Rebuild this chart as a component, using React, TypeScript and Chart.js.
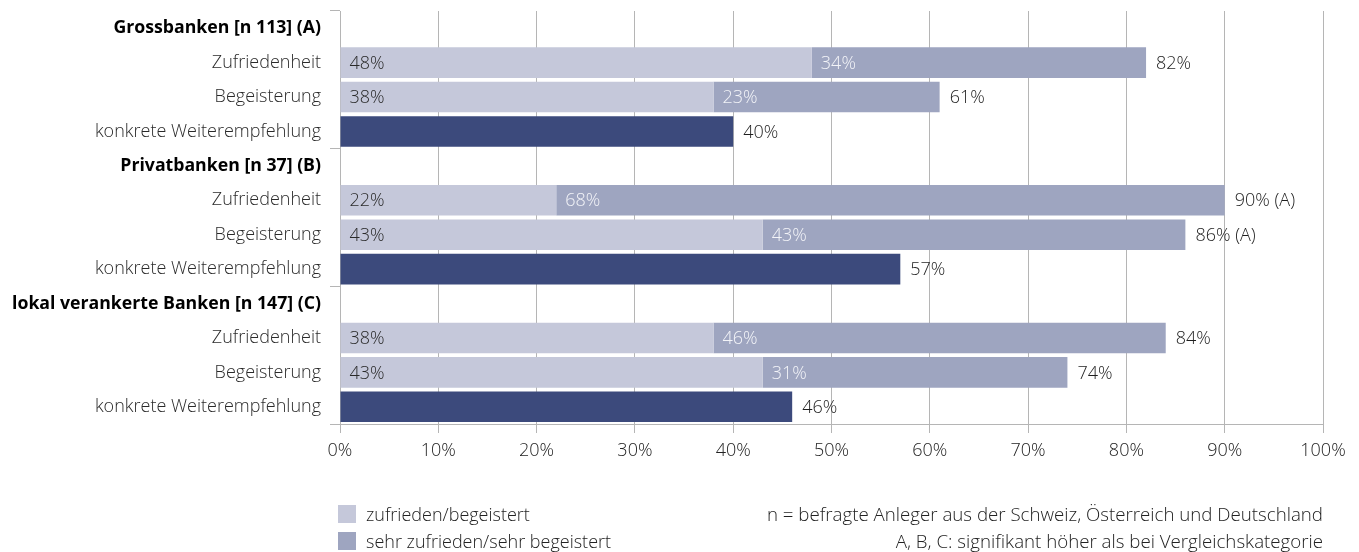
import React, { useEffect, useRef } from "react";
import { Chart, registerables } from "chart.js";

Chart.register(...registerables);

const categories = [
  "Grossbanken [n 113] (A)",
  "Zufriedenheit",
  "Begeisterung",
  "konkrete Weiterempfehlung",
  "Privatbanken [n 37] (B)",
  "Zufriedenheit",
  "Begeisterung",
  "konkrete Weiterempfehlung",
  "lokal verankerte Banken [n 147] (C)",
  "Zufriedenheit",
  "Begeisterung",
  "konkrete Weiterempfehlung",
];

const zufriedenValues = [null, 48, 38, null, null, 22, 43, null, null, 38, 43, null];
const sehrZufriedenValues = [null, 34, 23, null, null, 68, 43, null, null, 46, 31, null];
const weiterempfehlungValues = [null, null, null, 40, null, null, null, 57, null, null, null, 46];
const significanceMarks = ["", "", "", "", "", "(A)", "(A)", "", "", "", "", ""];

const seriesLabels = ["zufrieden/begeistert", "sehr zufrieden/sehr begeistert", "konkrete Weiterempfehlung"];
const notes = [
  "n = befragte Anleger aus der Schweiz, Österreich und Deutschland",
  "A, B, C: signifikant höher als bei Vergleichskategorie",
];

const LIGHT = "#c5c8da";
const MEDIUM = "#9ea5c0";
const DARK = "#3c4a7c";
const GRID = "#b5b5b5";
const FONT = "'Open Sans', Roboto, 'Liberation Sans', Arial, sans-serif";
const FONT_SIZE = 18;

const valueLabels = {
  id: "valueLabels",
  afterDatasetsDraw(chart: any) {
    const ctx = chart.ctx;
    ctx.save();
    ctx.font = `300 ${FONT_SIZE}px ${FONT}`;
    ctx.textBaseline = "middle";
    ctx.textAlign = "left";
    const m0 = chart.getDatasetMeta(0);
    const m1 = chart.getDatasetMeta(1);
    const m2 = chart.getDatasetMeta(2);
    categories.forEach((_, i) => {
      const a = zufriedenValues[i];
      const b = sehrZufriedenValues[i];
      const c = weiterempfehlungValues[i];
      const sig = significanceMarks[i];
      if (a != null) {
        const el = m0.data[i];
        ctx.fillStyle = "#2a2a2a";
        ctx.fillText(`${a}%`, el.base + 9, el.y + 1);
      }
      if (b != null) {
        const el = m1.data[i];
        ctx.fillStyle = "#f3f4f8";
        ctx.fillText(`${b}%`, el.base + 9, el.y + 1);
        const total = (a ?? 0) + b;
        ctx.fillStyle = "#1e1e1e";
        ctx.fillText(`${total}%${sig ? " " + sig : ""}`, el.x + 10, el.y + 1);
      }
      if (c != null) {
        const el = m2.data[i];
        ctx.fillStyle = "#1e1e1e";
        ctx.fillText(`${c}%${sig ? " " + sig : ""}`, el.x + 10, el.y + 1);
      }
    });
    ctx.restore();
  },
};

export default function App() {
  const canvasRef = useRef<HTMLCanvasElement | null>(null);

  useEffect(() => {
    if (!canvasRef.current) return;
    const chart = new Chart(canvasRef.current, {
      type: "bar",
      data: {
        labels: categories,
        datasets: [
          { label: seriesLabels[0], data: zufriedenValues, backgroundColor: LIGHT, stack: "s" },
          { label: seriesLabels[1], data: sehrZufriedenValues, backgroundColor: MEDIUM, stack: "s" },
          { label: seriesLabels[2], data: weiterempfehlungValues, backgroundColor: DARK, stack: "s" },
        ],
      },
      options: {
        indexAxis: "y",
        responsive: false,
        animation: false,
        maintainAspectRatio: false,
        layout: { padding: { left: 0, right: 36, top: 11, bottom: 0 } },
        datasets: { bar: { barPercentage: 0.89, categoryPercentage: 1 } },
        plugins: { legend: { display: false }, tooltip: { enabled: false } },
        scales: {
          x: {
            stacked: true,
            min: 0,
            max: 100,
            ticks: {
              stepSize: 10,
              callback: (v: any) => `${v}%`,
              color: "#222",
              font: { family: FONT, size: FONT_SIZE, weight: "300" },
              padding: 7,
            },
            grid: { color: GRID, lineWidth: 1, tickLength: 9 },
            border: { display: true, color: GRID },
            afterFit: (scale: any) => {
              scale.height = 128;
            },
          },
          y: {
            stacked: true,
            ticks: {
              color: (ctx: any) => (ctx.index % 4 === 0 ? "#000" : "#2a2a2a"),
              font: (ctx: any) => ({
                family: FONT,
                size: ctx.index % 4 === 0 ? 17.7 : FONT_SIZE,
                weight: ctx.index % 4 === 0 ? "bold" : "300",
              }),
              padding: 9,
              autoSkip: false,
            },
            grid: {
              offset: true,
              drawOnChartArea: false,
              tickLength: 10,
              color: (ctx: any) =>
                ctx.index === undefined || ctx.index % 4 === 0 ? GRID : "rgba(0,0,0,0)",
            },
            border: { display: false },
            afterFit: (scale: any) => {
              scale.width = 340;
              scale.paddingTop = 0;
              scale.paddingBottom = 0;
            },
          },
        },
      },
      plugins: [valueLabels],
    });
    return () => chart.destroy();
  }, []);

  const textStyle: React.CSSProperties = {
    position: "absolute",
    fontFamily: FONT,
    fontWeight: 300,
    fontSize: FONT_SIZE,
    color: "#222",
    lineHeight: "20px",
    whiteSpace: "nowrap",
  };

  return (
    <div style={{ position: "absolute", left: 0, top: 0, width: 1359, height: 552, background: "#fff" }}>
      <canvas ref={canvasRef} width={1359} height={552} style={{ position: "absolute", left: 0, top: 0 }} />
      {[0, 1].map((i) => (
        <React.Fragment key={i}>
          <div
            style={{
              position: "absolute",
              left: 338,
              top: 505 + i * 27,
              width: 18,
              height: 18,
              background: i === 0 ? LIGHT : MEDIUM,
            }}
          />
          <div style={{ ...textStyle, left: 366, top: 504 + i * 27 }}>{seriesLabels[i]}</div>
          <div style={{ ...textStyle, fontSize: 18.7, right: 36, top: 504 + i * 27, textAlign: "right" }}>
            {notes[i]}
          </div>
        </React.Fragment>
      ))}
    </div>
  );
}
